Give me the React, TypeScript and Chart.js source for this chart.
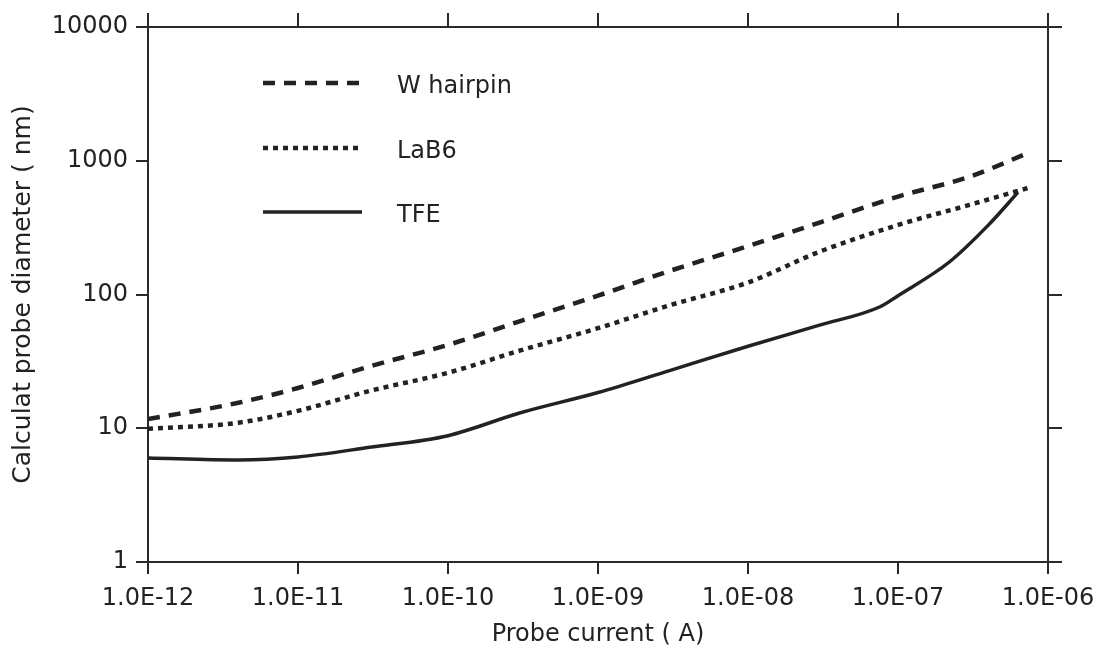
import React, { useEffect, useRef } from 'react';
import { Chart, registerables } from 'chart.js';

Chart.register(...registerables);

// ---- Data ----
const xTickValues = [1e-12, 1e-11, 1e-10, 1e-9, 1e-8, 1e-7, 1e-6];
const xTickLabels = ['1.0E-12', '1.0E-11', '1.0E-10', '1.0E-09', '1.0E-08', '1.0E-07', '1.0E-06'];
const yTickValues = [1, 10, 100, 1000, 10000];
const yTickLabels = ['1', '10', '100', '1000', '10000'];

const seriesLabels = ['W hairpin', 'LaB6', 'TFE'];

const wHairpinCurrent = [1e-12, 4e-12, 1e-11, 3e-11, 1e-10, 3e-10, 1e-9, 3e-9, 1e-8, 3e-8, 1e-7, 3e-7, 7.2e-7];
const wHairpinDiameter = [11.7, 15.5, 20, 29, 42, 63, 98, 150, 230, 345, 540, 760, 1130];

const lab6Current = [1e-12, 4e-12, 1e-11, 3e-11, 1e-10, 3e-10, 1e-9, 3e-9, 1e-8, 3e-8, 1e-7, 3e-7, 7.5e-7];
const lab6Diameter = [9.9, 11, 13.5, 19, 26, 38, 56, 83, 123, 209, 331, 468, 630];

const tfeCurrent = [1e-12, 4e-12, 1e-11, 3e-11, 1e-10, 3e-10, 1e-9, 3e-9, 1e-8, 3e-8, 7.6e-8, 1e-7, 2.2e-7, 4e-7, 6.3e-7];
const tfeDiameter = [6.0, 5.8, 6.1, 7.2, 8.8, 13, 18.5, 27, 41, 59, 81, 98, 175, 330, 580];

const xTitle = 'Probe current ( A)';
const yTitle = 'Calculat probe diameter ( nm)';

const FONT = '"DejaVu Sans", sans-serif';
const INK = '#222';

const toPoints = (xs: number[], ys: number[]) => xs.map((x, i) => ({ x, y: ys[i] }));

const inlineLegend = {
  id: 'inlineLegend',
  afterDatasetsDraw(chart: any) {
    const { ctx, chartArea } = chart;
    const rows = [83, 148, 212];
    chart.data.datasets.forEach((ds: any, i: number) => {
      const y = rows[i];
      ctx.save();
      ctx.strokeStyle = ds.borderColor;
      ctx.lineWidth = ds.borderWidth;
      ctx.lineCap = 'butt';
      ctx.setLineDash(ds.borderDash || []);
      ctx.beginPath();
      ctx.moveTo(chartArea.left + 115, y);
      ctx.lineTo(chartArea.left + 214, y);
      ctx.stroke();
      ctx.setLineDash([]);
      ctx.fillStyle = INK;
      ctx.font = `24px ${FONT}`;
      ctx.textBaseline = 'middle';
      ctx.textAlign = 'left';
      ctx.fillText(ds.label, chartArea.left + 249, y + 4);
      ctx.restore();
    });
  },
};

function decadeTicks(values: number[]) {
  return (scale: any) => {
    scale.ticks = values.map((v) => ({ value: v }));
  };
}

function fixHeight(h: number) {
  return (s: any) => {
    s.height = h;
    s.paddingLeft = 0;
    s.paddingRight = 0;
  };
}

function fixWidth(w: number) {
  return (s: any) => {
    s.width = w;
    s.paddingTop = 0;
    s.paddingBottom = 0;
  };
}

export default function App() {
  const ref = useRef<HTMLCanvasElement | null>(null);

  useEffect(() => {
    if (!ref.current) return;
    const axisCommon = {
      type: 'logarithmic' as const,
      border: { display: true, color: '#2a2a2a', width: 2 },
    };
    const chart = new Chart(ref.current, {
      type: 'line',
      data: {
        datasets: [
          {
            label: seriesLabels[0],
            data: toPoints(wHairpinCurrent, wHairpinDiameter),
            borderColor: INK,
            borderWidth: 4.5,
            borderDash: [12, 9],
            pointRadius: 0,
            cubicInterpolationMode: 'monotone',
            fill: false,
          },
          {
            label: seriesLabels[1],
            data: toPoints(lab6Current, lab6Diameter),
            borderColor: INK,
            borderWidth: 4.5,
            borderDash: [5, 5],
            pointRadius: 0,
            cubicInterpolationMode: 'monotone',
            fill: false,
          },
          {
            label: seriesLabels[2],
            data: toPoints(tfeCurrent, tfeDiameter),
            borderColor: INK,
            borderWidth: 3.5,
            pointRadius: 0,
            cubicInterpolationMode: 'monotone',
            fill: false,
          },
        ],
      },
      options: {
        animation: false,
        responsive: false,
        devicePixelRatio: 1,
        layout: { padding: 0 },
        plugins: {
          legend: { display: false },
          tooltip: { enabled: false },
        },
        scales: {
          x: {
            ...axisCommon,
            position: 'bottom',
            min: 1e-12,
            max: 1e-6,
            afterBuildTicks: decadeTicks(xTickValues),
            afterFit: fixHeight(106),
            grid: { display: true, drawOnChartArea: false, drawTicks: true, tickLength: 12, color: '#2a2a2a', lineWidth: 2 },
            ticks: {
              autoSkip: false,
              maxRotation: 0,
              padding: 10,
              color: INK,
              font: { family: FONT, size: 24 },
              callback: (_v: any, i: number) => xTickLabels[i],
            },
            title: { display: true, text: xTitle, color: INK, font: { family: FONT, size: 24 }, padding: { top: 0, bottom: 19 } },
          },
          x2: {
            ...axisCommon,
            position: 'top',
            min: 1e-12,
            max: 1e-6,
            afterBuildTicks: decadeTicks(xTickValues),
            afterFit: fixHeight(27),
            grid: { display: true, drawOnChartArea: false, drawTicks: true, tickLength: 14, color: '#2a2a2a', lineWidth: 2 },
            ticks: { display: false },
          },
          y: {
            ...axisCommon,
            position: 'left',
            min: 1,
            max: 10000,
            afterBuildTicks: decadeTicks(yTickValues),
            afterFit: fixWidth(148),
            grid: { display: true, drawOnChartArea: false, drawTicks: true, tickLength: 12, color: '#2a2a2a', lineWidth: 2 },
            ticks: {
              autoSkip: false,
              padding: 8,
              color: INK,
              font: { family: FONT, size: 24 },
              callback: (_v: any, i: number) => yTickLabels[i],
            },
            title: { display: true, text: yTitle, color: INK, font: { family: FONT, size: 25 }, padding: { top: 8, bottom: 0 } },
          },
          y2: {
            ...axisCommon,
            position: 'right',
            min: 1,
            max: 10000,
            afterBuildTicks: decadeTicks(yTickValues),
            afterFit: fixWidth(51),
            grid: { display: true, drawOnChartArea: false, drawTicks: true, tickLength: 14, color: '#2a2a2a', lineWidth: 2 },
            ticks: { display: false },
          },
        },
      } as any,
      plugins: [inlineLegend],
    });
    return () => chart.destroy();
  }, []);

  return (
    <div style={{ position: 'absolute', left: 0, top: 0, width: 1099, height: 668, background: '#fff' }}>
      <canvas ref={ref} width={1099} height={668} style={{ display: 'block', width: 1099, height: 668 }} />
    </div>
  );
}
